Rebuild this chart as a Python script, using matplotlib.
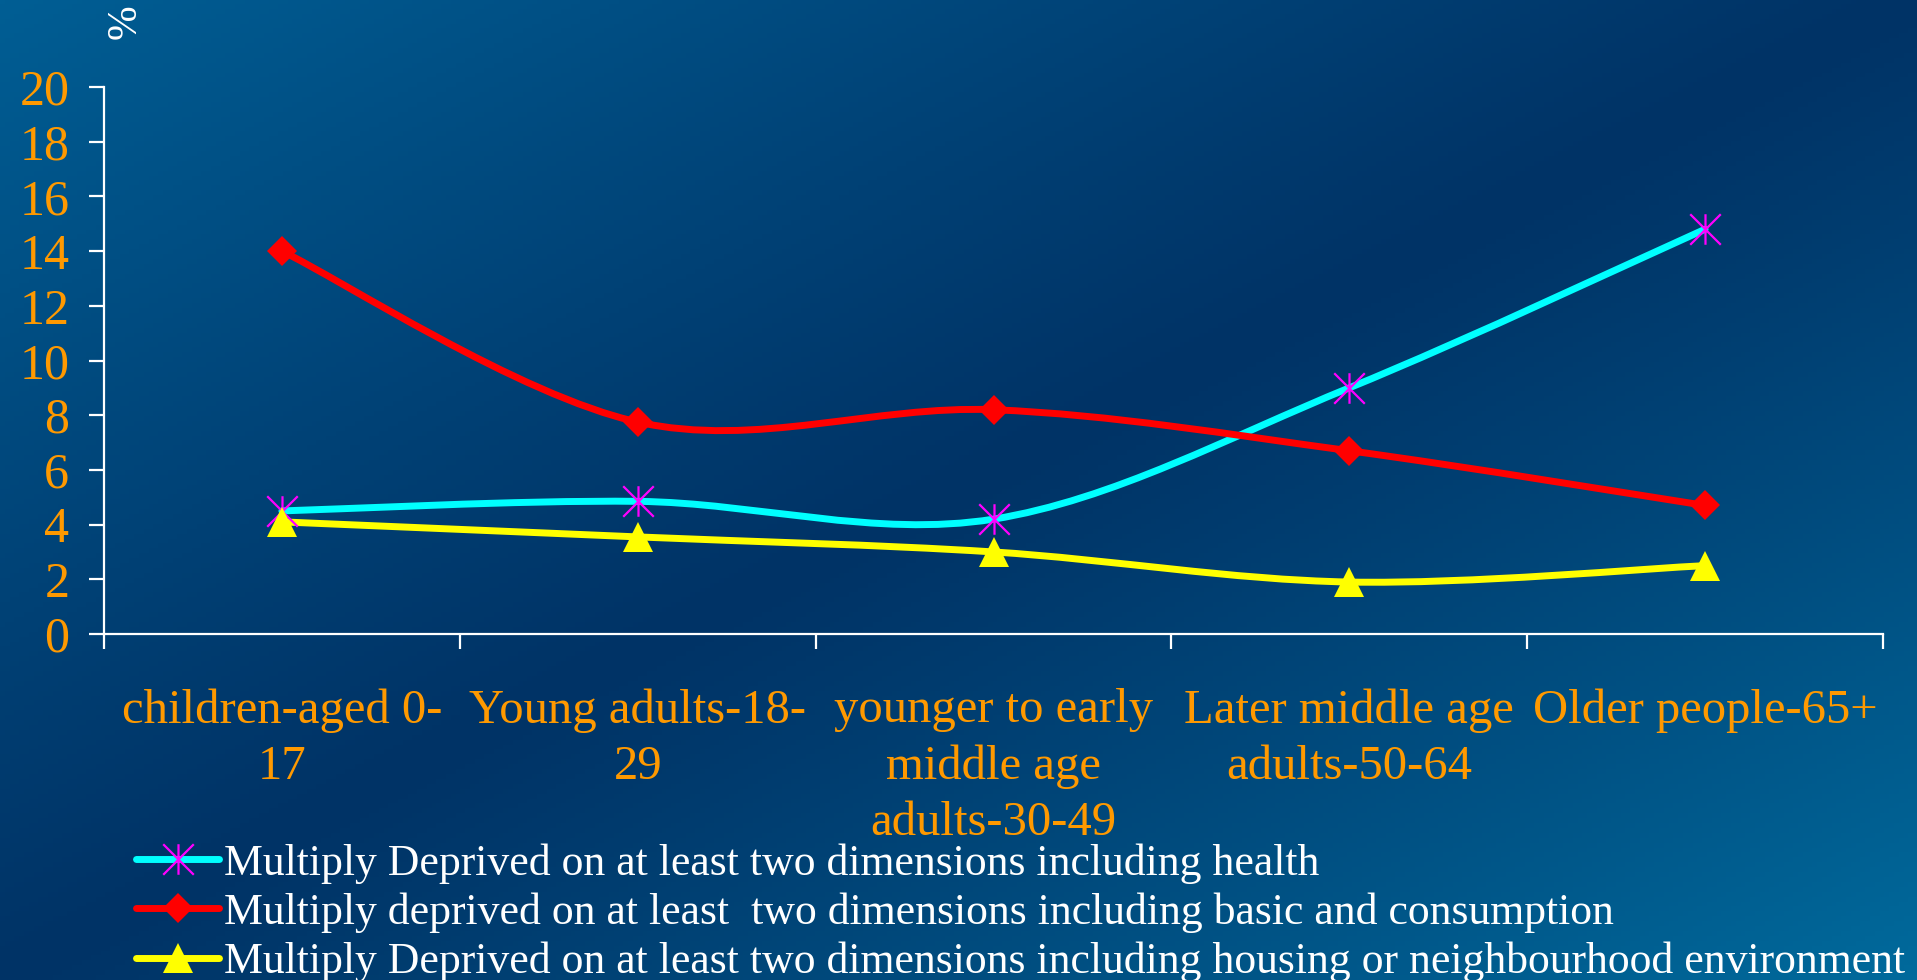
import numpy as np
import matplotlib
matplotlib.use("Agg")
import matplotlib.pyplot as plt
from matplotlib.path import Path
from matplotlib.patches import PathPatch
from matplotlib.lines import Line2D

plt.rcParams["font.family"] = ["Liberation Serif", "DejaVu Serif"]

CATEGORIES = [
    "children-aged 0-\n17",
    "Young adults-18-\n29",
    "younger to early\nmiddle age\nadults-30-49",
    "Later middle age\nadults-50-64",
    "Older people-65+",
]
HEALTH = [4.5, 4.85, 4.2, 9.0, 14.8]
BASIC = [14.0, 7.75, 8.2, 6.7, 4.7]
HOUSING = [4.1, 3.55, 3.0, 1.9, 2.5]
Y_TICKS = [0, 2, 4, 6, 8, 10, 12, 14, 16, 18, 20]

LABELS = [
    "Multiply Deprived on at least two dimensions including health",
    "Multiply deprived on at least  two dimensions including basic and consumption",
    "Multiply Deprived on at least two dimensions including housing or neighbourhood environment",
]

ORANGE = "#FF9900"
W, H, DPI = 1917, 980, 100
LW = 5.0


def smooth_path(xs, ys):
    # Excel-style smoothed line: cubic Bezier segments through the points
    pts = np.column_stack([xs, ys]).astype(float)
    n = len(pts)
    verts = [pts[0]]
    codes = [Path.MOVETO]
    for i in range(n - 1):
        p_prev = pts[i - 1] if i > 0 else pts[i]
        p_next2 = pts[i + 2] if i + 2 < n else pts[i + 1]
        c1 = pts[i] + (pts[i + 1] - p_prev) / 6.0
        c2 = pts[i + 1] - (p_next2 - pts[i]) / 6.0
        verts += [c1, c2, pts[i + 1]]
        codes += [Path.CURVE4] * 3
    return Path(verts, codes)


asterisk = Path(
    [(-1, -1), (1, 1), (-1, 1), (1, -1), (0, -1), (0, 1)],
    [Path.MOVETO, Path.LINETO, Path.MOVETO, Path.LINETO, Path.MOVETO, Path.LINETO],
)

fig = plt.figure(figsize=(W / DPI, H / DPI), dpi=DPI)

# background gradient
bg = fig.add_axes([0, 0, 1, 1], zorder=-10)
nx, ny = np.meshgrid(np.linspace(0, 1, 400), np.linspace(0, 1, 200))
s = np.abs(nx + ny - 1.0) ** 1.1
dark = np.array([0, 51, 102]) / 255
light_tl = np.array([0, 94, 148]) / 255
light_br = np.array([0, 106, 156]) / 255
light = np.where((nx + ny - 1.0)[..., None] < 0, light_tl, light_br)
img = dark + (light - dark) * s[..., None]
bg.imshow(img, aspect="auto", extent=[0, 1, 0, 1], origin="upper")
bg.axis("off")

ax = fig.add_axes([104 / W, 1 - 634 / H, (1883 - 104) / W, (634 - 87) / H])
ax.set_facecolor("none")
x = np.arange(len(CATEGORIES))

series = [
    (HEALTH, "#00FFFF", asterisk, "#FF00FF", 22),
    (BASIC, "#FF0000", "D", "#FF0000", 15),
    (HOUSING, "#FFFF00", "^", "#FFFF00", 22),
]
handles = []
for vals, lc, mk, mc, ms in series:
    ax.add_patch(PathPatch(smooth_path(x, vals), fill=False, edgecolor=lc,
                           lw=LW, capstyle="round", joinstyle="round", zorder=3))
    if mk is asterisk:
        ax.plot(x, vals, linestyle="none", marker=mk, markersize=ms,
                markeredgecolor=mc, markerfacecolor="none", markeredgewidth=1.6, zorder=4)
        h = Line2D([], [], color=lc, lw=LW, marker=mk, markersize=ms,
                   markeredgecolor=mc, markerfacecolor="none", markeredgewidth=1.6,
                   solid_capstyle="round")
    else:
        ax.plot(x, vals, linestyle="none", marker=mk, markersize=ms,
                markeredgecolor=mc, markerfacecolor=mc, markeredgewidth=0, zorder=4)
        h = Line2D([], [], color=lc, lw=LW, marker=mk, markersize=ms,
                   markeredgecolor=mc, markerfacecolor=mc, markeredgewidth=0,
                   solid_capstyle="round")
    handles.append(h)

ax.set_xlim(-0.5, len(CATEGORIES) - 0.5)
ax.set_ylim(0, 20)
ax.set_yticks(Y_TICKS)
ax.set_yticklabels([str(t) for t in Y_TICKS])
ax.set_xticks(np.arange(-0.5, len(CATEGORIES)))
ax.set_xticklabels([])
ax.set_xticks(x, minor=True)
ax.set_xticklabels(CATEGORIES, minor=True, linespacing=1.36)

for sp in ["top", "right"]:
    ax.spines[sp].set_visible(False)
for sp in ["left", "bottom"]:
    ax.spines[sp].set_color("white")
    ax.spines[sp].set_linewidth(1.6)

ax.tick_params(axis="y", which="major", direction="out", length=11, width=1.6,
               color="white", labelcolor=ORANGE, labelsize=36, pad=14)
ax.tick_params(axis="x", which="major", direction="out", length=11, width=1.6,
               color="white")
ax.tick_params(axis="x", which="minor", length=0, labelcolor=ORANGE,
               labelsize=35, pad=39)

fig.text(125 / W, 1 - 22 / H, "%", rotation=90, color="white", fontsize=30,
         ha="center", va="center")

fig.legend(handles, LABELS, loc="upper left", bbox_to_anchor=(136 / W, 1 - 843 / H),
           frameon=False, fontsize=31.5, labelcolor="white", handlelength=1.9,
           handletextpad=0.1, labelspacing=0.2, borderpad=0, borderaxespad=0)

fig.savefig("out.png", dpi=DPI)
